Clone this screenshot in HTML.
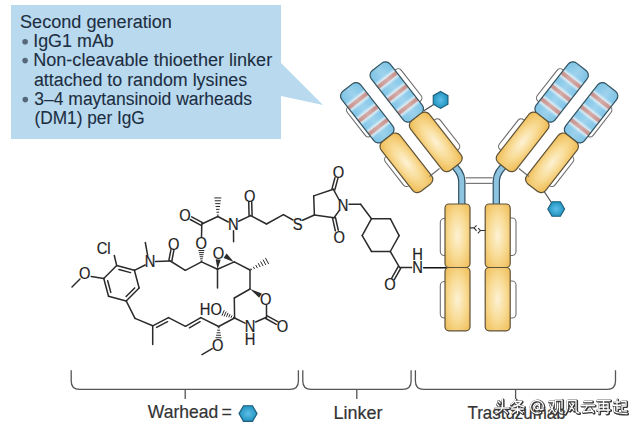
<!DOCTYPE html>
<html><head><meta charset="utf-8"><style>
html,body{margin:0;padding:0;background:#fff;}
svg{display:block;font-family:"Liberation Sans",sans-serif;}
</style></head><body>
<svg width="640" height="427" viewBox="0 0 640 427">

<defs>
<linearGradient id="blueg" x1="0" y1="0" x2="1" y2="0"><stop offset="0.000" stop-color="#7cc1e3"/><stop offset="0.170" stop-color="#84c7e9"/><stop offset="0.215" stop-color="#d3e8f3"/><stop offset="0.240" stop-color="#c8938e"/><stop offset="0.280" stop-color="#c8938e"/><stop offset="0.305" stop-color="#d3e8f3"/><stop offset="0.350" stop-color="#84c7e9"/><stop offset="0.430" stop-color="#84c7e9"/><stop offset="0.475" stop-color="#d3e8f3"/><stop offset="0.500" stop-color="#c8938e"/><stop offset="0.540" stop-color="#c8938e"/><stop offset="0.565" stop-color="#d3e8f3"/><stop offset="0.610" stop-color="#84c7e9"/><stop offset="0.690" stop-color="#84c7e9"/><stop offset="0.735" stop-color="#d3e8f3"/><stop offset="0.760" stop-color="#c8938e"/><stop offset="0.800" stop-color="#c8938e"/><stop offset="0.825" stop-color="#d3e8f3"/><stop offset="0.870" stop-color="#84c7e9"/><stop offset="1.000" stop-color="#7cc1e3"/></linearGradient>
<radialGradient id="yelg" cx="0.5" cy="0.5" r="0.6">
<stop offset="0" stop-color="#fdf2d4"/><stop offset="0.55" stop-color="#f8da92"/><stop offset="1" stop-color="#f0bf5c"/>
</radialGradient>
<radialGradient id="yelg2" cx="0.5" cy="0.5" r="0.65">
<stop offset="0" stop-color="#fdf2d4"/><stop offset="0.55" stop-color="#f8da92"/><stop offset="1" stop-color="#f0bf5c"/>
</radialGradient>
<linearGradient id="hil" x1="0" y1="0" x2="0" y2="1"><stop offset="0" stop-color="#fff" stop-opacity="0"/><stop offset="0.5" stop-color="#fff" stop-opacity="0.22"/><stop offset="1" stop-color="#fff" stop-opacity="0"/></linearGradient>
<radialGradient id="hexg" cx="0.5" cy="0.5" r="0.55">
<stop offset="0" stop-color="#5ebee8"/><stop offset="1" stop-color="#1b90bd"/>
</radialGradient>
</defs>
<rect width="640" height="427" fill="#fff"/>

<polygon points="11,5 281,5 281,63 323,105 281,96 281,139 11,139" fill="#b9daee"/>
<g font-size="18" fill="#1d2e42" stroke="#1d2e42" stroke-width="0.1">
<text x="20" y="27.5" textLength="151.9" lengthAdjust="spacingAndGlyphs">Second generation</text>
<text x="33.2" y="46.9" textLength="80.6" lengthAdjust="spacingAndGlyphs">IgG1 mAb</text>
<text x="33.2" y="66.2" textLength="239" lengthAdjust="spacingAndGlyphs">Non-cleavable thioether linker</text>
<text x="33.9" y="85.5" textLength="213.3" lengthAdjust="spacingAndGlyphs">attached to random lysines</text>
<text x="34.3" y="104.8" textLength="217.7" lengthAdjust="spacingAndGlyphs">3–4 maytansinoid warheads</text>
<text x="34.5" y="124.2" textLength="110.3" lengthAdjust="spacingAndGlyphs">(DM1) per IgG</text>
</g>
<circle cx="25.1" cy="41.7" r="2.8" fill="#56677a"/>
<circle cx="25.1" cy="60.6" r="2.8" fill="#56677a"/>
<circle cx="25.3" cy="99.6" r="2.8" fill="#56677a"/>

<g stroke-linecap="butt"><path d="M 449.30 161.5 Q 461.80 171.5 461.80 181 L 461.80 206" fill="none" stroke="#2f5062" stroke-width="7.4"/><path d="M 449.30 161.5 Q 461.80 171.5 461.80 181 L 461.80 206" fill="none" stroke="#8ec3df" stroke-width="5"/><path d="M 508.80 161.5 Q 496.30 171.5 496.30 181 L 496.30 206" fill="none" stroke="#2f5062" stroke-width="7.4"/><path d="M 508.80 161.5 Q 496.30 171.5 496.30 181 L 496.30 206" fill="none" stroke="#8ec3df" stroke-width="5"/><line x1="465.50" y1="177.80" x2="492.80" y2="177.80" stroke="#777" stroke-width="1.2" /><line x1="465.50" y1="183.40" x2="492.80" y2="183.40" stroke="#777" stroke-width="1.2" /><g transform="rotate(52)"><rect x="298.5" y="-226" width="37" height="21.5" rx="4" fill="#fff" stroke="#6b6b6b" stroke-width="1.1"/><rect x="361" y="-226" width="37" height="22" rx="4" fill="#fff" stroke="#6b6b6b" stroke-width="1.1"/><rect x="298.5" y="-273" width="40" height="22" rx="4" fill="#fff" stroke="#6b6b6b" stroke-width="1.1"/><rect x="362" y="-273" width="38" height="22" rx="4" fill="#fff" stroke="#6b6b6b" stroke-width="1.1"/><rect x="283" y="-232" width="64" height="24" rx="6" fill="url(#blueg)" stroke="#33525e" stroke-width="1.2"/><rect x="284" y="-231" width="62" height="22" rx="5" fill="url(#hil)"/><rect x="347" y="-232" width="63" height="24" rx="6" fill="url(#yelg)" stroke="#5e5238" stroke-width="1.2"/><rect x="284.8" y="-268" width="64" height="24" rx="6" fill="url(#blueg)" stroke="#33525e" stroke-width="1.2"/><rect x="285.8" y="-267" width="62" height="22" rx="5" fill="url(#hil)"/><rect x="348.6" y="-268" width="63" height="24" rx="6" fill="url(#yelg)" stroke="#5e5238" stroke-width="1.2"/></g><g transform="translate(958.4,0) scale(-1,1) rotate(52)"><rect x="298.5" y="-226" width="37" height="21.5" rx="4" fill="#fff" stroke="#6b6b6b" stroke-width="1.1"/><rect x="361" y="-226" width="37" height="22" rx="4" fill="#fff" stroke="#6b6b6b" stroke-width="1.1"/><rect x="298.5" y="-273" width="40" height="22" rx="4" fill="#fff" stroke="#6b6b6b" stroke-width="1.1"/><rect x="362" y="-273" width="38" height="22" rx="4" fill="#fff" stroke="#6b6b6b" stroke-width="1.1"/><rect x="283" y="-232" width="64" height="24" rx="6" fill="url(#blueg)" stroke="#33525e" stroke-width="1.2"/><rect x="284" y="-231" width="62" height="22" rx="5" fill="url(#hil)"/><rect x="347" y="-232" width="63" height="24" rx="6" fill="url(#yelg)" stroke="#5e5238" stroke-width="1.2"/><rect x="284.8" y="-268" width="64" height="24" rx="6" fill="url(#blueg)" stroke="#33525e" stroke-width="1.2"/><rect x="285.8" y="-267" width="62" height="22" rx="5" fill="url(#hil)"/><rect x="348.6" y="-268" width="63" height="24" rx="6" fill="url(#yelg)" stroke="#5e5238" stroke-width="1.2"/></g><line x1="429.50" y1="176.50" x2="439.50" y2="168.50" stroke="#666" stroke-width="1.1" /><line x1="528.90" y1="176.50" x2="518.90" y2="168.50" stroke="#666" stroke-width="1.1" /><rect x="440.3" y="218.5" width="12" height="37" rx="4" fill="#fff" stroke="#707070" stroke-width="1.1"/><rect x="440.3" y="281.5" width="12" height="36.5" rx="4" fill="#fff" stroke="#707070" stroke-width="1.1"/><rect x="504" y="218" width="12" height="37.5" rx="4" fill="#fff" stroke="#707070" stroke-width="1.1"/><rect x="504" y="281" width="12" height="37" rx="4" fill="#fff" stroke="#707070" stroke-width="1.1"/><rect x="445" y="204" width="25" height="63.5" rx="4" fill="url(#yelg2)" stroke="#5e5238" stroke-width="1.2"/><rect x="445" y="267.5" width="25" height="63.3" rx="4" fill="url(#yelg2)" stroke="#5e5238" stroke-width="1.2"/><rect x="485.2" y="204" width="25" height="63.5" rx="4" fill="url(#yelg2)" stroke="#5e5238" stroke-width="1.2"/><rect x="485.2" y="267.5" width="25" height="63.3" rx="4" fill="url(#yelg2)" stroke="#5e5238" stroke-width="1.2"/><path d="M469.9 227.9 L474 227.9 M476.6 225.3 L474 227.9 L476.6 230.8 M478.1 228.2 L480.5 230.5 L477.8 233.4 M480.5 230.5 L485.4 230.5" fill="none" stroke="#333" stroke-width="1.1"/><line x1="433.30" y1="104.70" x2="423.90" y2="110.80" stroke="#444" stroke-width="1.1" /><polygon points="440.60,91.40 447.96,95.65 447.96,104.15 440.60,108.40 433.24,104.15 433.24,95.65" fill="url(#hexg)" stroke="#1d5d78" stroke-width="1.1"/><line x1="551.20" y1="202.20" x2="544.00" y2="191.20" stroke="#444" stroke-width="1.1" /><polygon points="564.60,209.00 560.40,216.27 552.00,216.27 547.80,209.00 552.00,201.73 560.40,201.73" fill="url(#hexg)" stroke="#1d5d78" stroke-width="1.1"/></g>
<g stroke-linecap="round"><line x1="116.71" y1="265.57" x2="134.39" y2="270.31" stroke="#2b2b2b" stroke-width="1.5" /><line x1="134.39" y1="270.31" x2="139.13" y2="287.99" stroke="#2b2b2b" stroke-width="1.5" /><line x1="139.13" y1="287.99" x2="126.19" y2="300.93" stroke="#2b2b2b" stroke-width="1.5" /><line x1="126.19" y1="300.93" x2="108.51" y2="296.19" stroke="#2b2b2b" stroke-width="1.5" /><line x1="108.51" y1="296.19" x2="103.77" y2="278.51" stroke="#2b2b2b" stroke-width="1.5" /><line x1="103.77" y1="278.51" x2="116.71" y2="265.57" stroke="#2b2b2b" stroke-width="1.5" /><line x1="118.89" y1="269.47" x2="130.56" y2="272.60" stroke="#2b2b2b" stroke-width="1.5" /><line x1="134.66" y1="287.92" x2="126.12" y2="296.46" stroke="#2b2b2b" stroke-width="1.5" /><line x1="110.80" y1="292.36" x2="107.67" y2="280.69" stroke="#2b2b2b" stroke-width="1.5" /><line x1="116.71" y1="265.57" x2="114.30" y2="255.50" stroke="#2b2b2b" stroke-width="1.5" /><text transform="translate(103.60,254.13) scale(0.92,1)" font-size="16" text-anchor="middle" fill="#222" stroke="#222" stroke-width="0.2">Cl</text><line x1="103.77" y1="278.51" x2="91.20" y2="276.60" stroke="#2b2b2b" stroke-width="1.5" /><text transform="translate(84.70,279.33) scale(0.92,1)" font-size="16" text-anchor="middle" fill="#222" stroke="#222" stroke-width="0.2">O</text><line x1="80.00" y1="279.00" x2="72.00" y2="287.00" stroke="#2b2b2b" stroke-width="1.5" /><line x1="134.39" y1="270.31" x2="145.20" y2="265.00" stroke="#2b2b2b" stroke-width="1.5" /><text transform="translate(150.00,267.03) scale(0.92,1)" font-size="16" text-anchor="middle" fill="#222" stroke="#222" stroke-width="0.2">N</text><line x1="147.60" y1="255.20" x2="145.30" y2="242.50" stroke="#2b2b2b" stroke-width="1.5" /><line x1="155.60" y1="261.60" x2="170.30" y2="261.00" stroke="#2b2b2b" stroke-width="1.5" /><line x1="171.77" y1="261.28" x2="173.87" y2="250.28" stroke="#2b2b2b" stroke-width="1.5" /><line x1="168.83" y1="260.72" x2="170.93" y2="249.72" stroke="#2b2b2b" stroke-width="1.5" /><text transform="translate(173.80,249.73) scale(0.92,1)" font-size="16" text-anchor="middle" fill="#222" stroke="#222" stroke-width="0.2">O</text><line x1="170.30" y1="261.00" x2="185.30" y2="270.30" stroke="#2b2b2b" stroke-width="1.5" /><line x1="185.30" y1="270.30" x2="201.50" y2="261.90" stroke="#2b2b2b" stroke-width="1.5" /><line x1="200.98" y1="260.87" x2="202.00" y2="260.86" stroke="#2b2b2b" stroke-width="1.0" /><line x1="200.55" y1="258.81" x2="202.40" y2="258.79" stroke="#2b2b2b" stroke-width="1.0" /><line x1="200.12" y1="256.74" x2="202.80" y2="256.72" stroke="#2b2b2b" stroke-width="1.0" /><line x1="199.68" y1="254.68" x2="203.20" y2="254.65" stroke="#2b2b2b" stroke-width="1.0" /><line x1="199.25" y1="252.62" x2="203.60" y2="252.58" stroke="#2b2b2b" stroke-width="1.0" /><line x1="198.82" y1="250.55" x2="204.00" y2="250.51" stroke="#2b2b2b" stroke-width="1.0" /><text transform="translate(201.30,248.63) scale(0.92,1)" font-size="16" text-anchor="middle" fill="#222" stroke="#222" stroke-width="0.2">O</text><line x1="201.50" y1="261.90" x2="217.50" y2="269.30" stroke="#2b2b2b" stroke-width="1.5" /><line x1="217.50" y1="269.30" x2="217.50" y2="288.10" stroke="#2b2b2b" stroke-width="1.5" /><polygon points="217.50,269.30 220.69,259.68 215.71,259.32" fill="#2b2b2b"/><text transform="translate(218.40,259.13) scale(0.92,1)" font-size="16" text-anchor="middle" fill="#222" stroke="#222" stroke-width="0.2">O</text><line x1="217.50" y1="269.30" x2="234.30" y2="261.90" stroke="#2b2b2b" stroke-width="1.5" /><polygon points="226.6,253.4 223.6,257.9 233.8,262.0" fill="#2b2b2b"/><line x1="234.30" y1="261.90" x2="250.00" y2="270.00" stroke="#2b2b2b" stroke-width="1.5" /><line x1="251.07" y1="268.85" x2="251.55" y2="269.76" stroke="#2b2b2b" stroke-width="1.0" /><line x1="253.50" y1="267.09" x2="254.38" y2="268.76" stroke="#2b2b2b" stroke-width="1.0" /><line x1="255.93" y1="265.32" x2="257.21" y2="267.75" stroke="#2b2b2b" stroke-width="1.0" /><line x1="258.36" y1="263.56" x2="260.04" y2="266.74" stroke="#2b2b2b" stroke-width="1.0" /><line x1="260.79" y1="261.79" x2="262.87" y2="265.74" stroke="#2b2b2b" stroke-width="1.0" /><line x1="263.22" y1="260.03" x2="265.70" y2="264.73" stroke="#2b2b2b" stroke-width="1.0" /><line x1="265.65" y1="258.26" x2="268.52" y2="263.72" stroke="#2b2b2b" stroke-width="1.0" /><line x1="250.00" y1="270.00" x2="250.00" y2="289.00" stroke="#2b2b2b" stroke-width="1.5" /><polygon points="250.00,289.00 259.17,297.72 261.83,293.48" fill="#2b2b2b"/><text transform="translate(265.60,305.03) scale(0.92,1)" font-size="16" text-anchor="middle" fill="#222" stroke="#222" stroke-width="0.2">O</text><line x1="250.00" y1="289.00" x2="234.30" y2="298.00" stroke="#2b2b2b" stroke-width="1.5" /><line x1="234.30" y1="298.00" x2="234.60" y2="318.00" stroke="#2b2b2b" stroke-width="1.5" /><line x1="233.35" y1="318.02" x2="233.75" y2="317.08" stroke="#2b2b2b" stroke-width="1.0" /><line x1="231.09" y1="317.50" x2="231.81" y2="315.80" stroke="#2b2b2b" stroke-width="1.0" /><line x1="228.82" y1="316.98" x2="229.88" y2="314.52" stroke="#2b2b2b" stroke-width="1.0" /><line x1="226.56" y1="316.47" x2="227.94" y2="313.23" stroke="#2b2b2b" stroke-width="1.0" /><line x1="224.29" y1="315.95" x2="226.01" y2="311.95" stroke="#2b2b2b" stroke-width="1.0" /><line x1="222.03" y1="315.43" x2="224.07" y2="310.67" stroke="#2b2b2b" stroke-width="1.0" /><text transform="translate(210.80,314.93) scale(0.92,1)" font-size="16" text-anchor="middle" fill="#222" stroke="#222" stroke-width="0.2">HO</text><line x1="234.60" y1="318.00" x2="245.00" y2="323.20" stroke="#2b2b2b" stroke-width="1.5" /><text transform="translate(250.10,331.73) scale(0.92,1)" font-size="16" text-anchor="middle" fill="#222" stroke="#222" stroke-width="0.2">N</text><text transform="translate(250.10,344.93) scale(0.92,1)" font-size="16" text-anchor="middle" fill="#222" stroke="#222" stroke-width="0.2">H</text><line x1="255.60" y1="322.00" x2="266.50" y2="317.20" stroke="#2b2b2b" stroke-width="1.5" /><line x1="266.50" y1="317.20" x2="266.50" y2="305.60" stroke="#2b2b2b" stroke-width="1.5" /><line x1="265.77" y1="318.51" x2="276.27" y2="324.31" stroke="#2b2b2b" stroke-width="1.5" /><line x1="267.23" y1="315.89" x2="277.73" y2="321.69" stroke="#2b2b2b" stroke-width="1.5" /><text transform="translate(282.40,331.83) scale(0.92,1)" font-size="16" text-anchor="middle" fill="#222" stroke="#222" stroke-width="0.2">O</text><line x1="234.60" y1="318.00" x2="218.70" y2="326.50" stroke="#2b2b2b" stroke-width="1.5" /><line x1="219.23" y1="327.76" x2="218.13" y2="327.74" stroke="#2b2b2b" stroke-width="1.0" /><line x1="219.69" y1="330.27" x2="217.59" y2="330.23" stroke="#2b2b2b" stroke-width="1.0" /><line x1="220.15" y1="332.77" x2="217.05" y2="332.73" stroke="#2b2b2b" stroke-width="1.0" /><line x1="220.61" y1="335.28" x2="216.51" y2="335.22" stroke="#2b2b2b" stroke-width="1.0" /><line x1="221.07" y1="337.79" x2="215.97" y2="337.71" stroke="#2b2b2b" stroke-width="1.0" /><text transform="translate(217.80,350.93) scale(0.92,1)" font-size="16" text-anchor="middle" fill="#222" stroke="#222" stroke-width="0.2">O</text><line x1="212.20" y1="348.60" x2="202.00" y2="354.60" stroke="#2b2b2b" stroke-width="1.5" /><line x1="218.70" y1="326.50" x2="200.80" y2="317.60" stroke="#2b2b2b" stroke-width="1.5" /><line x1="200.80" y1="317.60" x2="185.50" y2="326.30" stroke="#2b2b2b" stroke-width="1.5" /><line x1="200.09" y1="321.69" x2="189.38" y2="327.78" stroke="#2b2b2b" stroke-width="1.5" /><line x1="185.50" y1="326.30" x2="168.50" y2="317.60" stroke="#2b2b2b" stroke-width="1.5" /><line x1="168.50" y1="317.60" x2="152.70" y2="325.80" stroke="#2b2b2b" stroke-width="1.5" /><line x1="167.60" y1="321.67" x2="156.54" y2="327.41" stroke="#2b2b2b" stroke-width="1.5" /><line x1="152.70" y1="325.80" x2="152.70" y2="344.60" stroke="#2b2b2b" stroke-width="1.5" /><line x1="152.70" y1="325.80" x2="135.00" y2="318.40" stroke="#2b2b2b" stroke-width="1.5" /><line x1="135.00" y1="318.40" x2="126.19" y2="300.93" stroke="#2b2b2b" stroke-width="1.5" /><line x1="201.50" y1="237.00" x2="201.80" y2="224.00" stroke="#2b2b2b" stroke-width="1.5" /><line x1="202.51" y1="222.68" x2="191.71" y2="216.88" stroke="#2b2b2b" stroke-width="1.5" /><line x1="201.09" y1="225.32" x2="190.29" y2="219.52" stroke="#2b2b2b" stroke-width="1.5" /><text transform="translate(185.00,221.33) scale(0.92,1)" font-size="16" text-anchor="middle" fill="#222" stroke="#222" stroke-width="0.2">O</text><line x1="201.80" y1="224.00" x2="217.80" y2="216.50" stroke="#2b2b2b" stroke-width="1.5" /><line x1="217.29" y1="215.07" x2="218.31" y2="215.07" stroke="#2b2b2b" stroke-width="1.0" /><line x1="216.86" y1="212.21" x2="218.74" y2="212.21" stroke="#2b2b2b" stroke-width="1.0" /><line x1="216.43" y1="209.36" x2="219.17" y2="209.36" stroke="#2b2b2b" stroke-width="1.0" /><line x1="216.00" y1="206.50" x2="219.60" y2="206.50" stroke="#2b2b2b" stroke-width="1.0" /><line x1="215.57" y1="203.64" x2="220.03" y2="203.64" stroke="#2b2b2b" stroke-width="1.0" /><line x1="215.14" y1="200.79" x2="220.46" y2="200.79" stroke="#2b2b2b" stroke-width="1.0" /><line x1="214.71" y1="197.93" x2="220.89" y2="197.93" stroke="#2b2b2b" stroke-width="1.0" /><line x1="217.80" y1="216.50" x2="228.30" y2="222.00" stroke="#2b2b2b" stroke-width="1.5" /><text transform="translate(233.20,230.23) scale(0.92,1)" font-size="16" text-anchor="middle" fill="#222" stroke="#222" stroke-width="0.2">N</text><line x1="233.50" y1="230.80" x2="233.60" y2="241.80" stroke="#2b2b2b" stroke-width="1.5" /><line x1="238.60" y1="221.30" x2="250.60" y2="215.60" stroke="#2b2b2b" stroke-width="1.5" /><line x1="252.10" y1="215.56" x2="251.70" y2="201.76" stroke="#2b2b2b" stroke-width="1.5" /><line x1="249.10" y1="215.64" x2="248.70" y2="201.84" stroke="#2b2b2b" stroke-width="1.5" /><text transform="translate(249.70,201.63) scale(0.92,1)" font-size="16" text-anchor="middle" fill="#222" stroke="#222" stroke-width="0.2">O</text><line x1="250.60" y1="215.60" x2="266.50" y2="224.00" stroke="#2b2b2b" stroke-width="1.5" /><line x1="266.50" y1="224.00" x2="283.40" y2="214.70" stroke="#2b2b2b" stroke-width="1.5" /><line x1="283.40" y1="214.70" x2="293.00" y2="220.00" stroke="#2b2b2b" stroke-width="1.5" /><text transform="translate(297.70,230.23) scale(0.92,1)" font-size="16" text-anchor="middle" fill="#222" stroke="#222" stroke-width="0.2">S</text><line x1="302.60" y1="220.30" x2="314.40" y2="215.00" stroke="#2b2b2b" stroke-width="1.5" /><line x1="314.40" y1="215.00" x2="313.70" y2="195.90" stroke="#2b2b2b" stroke-width="1.5" /><line x1="313.70" y1="195.90" x2="333.40" y2="189.30" stroke="#2b2b2b" stroke-width="1.5" /><line x1="333.40" y1="189.30" x2="339.20" y2="200.00" stroke="#2b2b2b" stroke-width="1.5" /><line x1="339.20" y1="210.60" x2="334.00" y2="217.80" stroke="#2b2b2b" stroke-width="1.5" /><line x1="334.00" y1="217.80" x2="314.40" y2="215.00" stroke="#2b2b2b" stroke-width="1.5" /><line x1="334.85" y1="189.69" x2="337.85" y2="178.59" stroke="#2b2b2b" stroke-width="1.5" /><line x1="331.95" y1="188.91" x2="334.95" y2="177.81" stroke="#2b2b2b" stroke-width="1.5" /><text transform="translate(338.50,177.73) scale(0.92,1)" font-size="16" text-anchor="middle" fill="#222" stroke="#222" stroke-width="0.2">O</text><line x1="332.54" y1="218.12" x2="335.34" y2="230.82" stroke="#2b2b2b" stroke-width="1.5" /><line x1="335.46" y1="217.48" x2="338.26" y2="230.18" stroke="#2b2b2b" stroke-width="1.5" /><text transform="translate(339.20,242.73) scale(0.92,1)" font-size="16" text-anchor="middle" fill="#222" stroke="#222" stroke-width="0.2">O</text><text transform="translate(343.00,210.93) scale(0.92,1)" font-size="16" text-anchor="middle" fill="#222" stroke="#222" stroke-width="0.2">N</text><line x1="349.00" y1="204.30" x2="360.60" y2="204.30" stroke="#2b2b2b" stroke-width="1.5" /><line x1="360.60" y1="204.30" x2="371.50" y2="218.70" stroke="#2b2b2b" stroke-width="1.5" /><line x1="371.50" y1="218.70" x2="390.30" y2="218.70" stroke="#2b2b2b" stroke-width="1.5" /><line x1="390.30" y1="218.70" x2="399.10" y2="235.60" stroke="#2b2b2b" stroke-width="1.5" /><line x1="399.10" y1="235.60" x2="390.30" y2="251.50" stroke="#2b2b2b" stroke-width="1.5" /><line x1="390.30" y1="251.50" x2="371.50" y2="251.50" stroke="#2b2b2b" stroke-width="1.5" /><line x1="371.50" y1="251.50" x2="362.20" y2="235.60" stroke="#2b2b2b" stroke-width="1.5" /><line x1="362.20" y1="235.60" x2="371.50" y2="218.70" stroke="#2b2b2b" stroke-width="1.5" /><line x1="390.30" y1="251.50" x2="399.50" y2="267.40" stroke="#2b2b2b" stroke-width="1.5" /><line x1="399.50" y1="267.40" x2="411.60" y2="267.40" stroke="#2b2b2b" stroke-width="1.5" /><line x1="398.20" y1="266.66" x2="391.70" y2="278.06" stroke="#2b2b2b" stroke-width="1.5" /><line x1="400.80" y1="268.14" x2="394.30" y2="279.54" stroke="#2b2b2b" stroke-width="1.5" /><text transform="translate(390.00,290.03) scale(0.92,1)" font-size="16" text-anchor="middle" fill="#222" stroke="#222" stroke-width="0.2">O</text><text transform="translate(417.50,273.43) scale(0.92,1)" font-size="16" text-anchor="middle" fill="#222" stroke="#222" stroke-width="0.2">N</text><text transform="translate(417.50,259.63) scale(0.92,1)" font-size="16" text-anchor="middle" fill="#222" stroke="#222" stroke-width="0.2">H</text><line x1="423.60" y1="267.70" x2="446.00" y2="267.70" stroke="#111" stroke-width="1.5" /></g>
<path d="M71.2 370.3 L71.2 380.9 Q71.2 389.4 79.7 389.4 L289.9 389.4 Q298.4 389.4 298.4 380.9 L298.4 370.3 M185.2 389.4 L185.2 399" fill="none" stroke="#555" stroke-width="1.3"/><path d="M302.8 370.3 L302.8 380.9 Q302.8 389.4 311.3 389.4 L402.6 389.4 Q411.1 389.4 411.1 380.9 L411.1 370.3 M356.8 389.4 L356.8 399" fill="none" stroke="#555" stroke-width="1.3"/><path d="M415.4 370.3 L415.4 380.9 Q415.4 389.4 423.9 389.4 L607.0 389.4 Q615.5 389.4 615.5 380.9 L615.5 370.3 M515.6 389.4 L515.6 399" fill="none" stroke="#555" stroke-width="1.3"/>

<text x="147.8" y="418.3" font-size="17.8" fill="#333" stroke="#333" stroke-width="0.2" textLength="70.4" lengthAdjust="spacingAndGlyphs">Warhead</text>
<text x="221.5" y="418.3" font-size="17.8" fill="#333" stroke="#333" stroke-width="0.2">=</text>
<text x="333.55" y="418.5" font-size="17.8" fill="#333" stroke="#333" stroke-width="0.2" textLength="49" lengthAdjust="spacingAndGlyphs">Linker</text>
<text x="467.55" y="418.5" font-size="17.8" fill="#333" stroke="#333" stroke-width="0.2" textLength="98" lengthAdjust="spacingAndGlyphs">Trastuzumab</text>

<polygon points="257.00,413.60 252.50,421.39 243.50,421.39 239.00,413.60 243.50,405.81 252.50,405.81" fill="url(#hexg)" stroke="#1d5d78" stroke-width="1.1"/>
<g fill="none" stroke-linecap="round" stroke-linejoin="round"><g stroke="#383838" stroke-width="3.0" transform="translate(0.6,0.6)"><path transform="translate(495,399.5)" d="M3,1.5 L5,3.5 M2,4.5 L4,6.5 M7.5,0 L7.5,7.5 Q7,11.5 1,14 M0,8.5 L14,8.5 M9,10.5 L12.5,13.5"/> <path transform="translate(510.5,399.5)" d="M5,0 Q3.5,3 0.5,5 M4,2 L11,2 Q8,6 1.5,8 M5,3.5 Q9,6.5 13.5,7.5 M1,9.5 L13,9.5 M7,7.5 L7,14 M6,10.5 L2,13.5 M8,10.5 L12,13.5"/> <path transform="translate(530,399.5)" d="M13.5,7.5 A6.5,6.5 0 1 0 10.5,13 M9.5,7.5 A2.5,2.5 0 1 1 9.49,7.4 M9.5,5 L9.5,9.5 Q10.5,11 13.5,9.5"/> <path transform="translate(548.5,399.5)" d="M0.5,2 L5.5,2 Q4.5,9 0.5,13.5 M1.5,5 Q4,10 6,13.5 M7,0.5 L7,8.5 M7,0.5 L13.5,0.5 L13.5,8.5 M9,3.5 L9,8.5 Q8.5,12 6.5,14 M11,3.5 L11,12 Q11.5,13.5 14,13.5"/> <path transform="translate(565,399.5)" d="M2.5,1 L2.5,8 Q2,12 0,14 M2.5,1 L11,1 L11,11 Q11.5,13.5 14,13.5 M4.5,4 L9,11 M9,4 L4.5,11"/> <path transform="translate(581,399.5)" d="M3,2 L11,2 M0.5,6 L13.5,6 M6.5,6 L2,12.5 L12,11.5 M9.5,9 L12.5,13"/> <path transform="translate(596.5,399.5)" d="M0.5,1 L13.5,1 M7,1 L7,10.5 M2.5,4 L2.5,14 M2.5,4 L11.5,4 L11.5,13 Q11.5,14 10,14 M2.5,7.5 L11.5,7.5 M0.5,10.5 L13.5,10.5"/> <path transform="translate(613,399.5)" d="M1,2.5 L7,2.5 M4,0 L4,6 M0.5,6 L7.5,6 M4,6 L4,11 M4,8.5 L7,8.5 M1.5,8 L1.5,12 Q5,14 14,14 M8.5,2 L13,2 L13,6.5 L9,6.5 L9,10.5 Q9,11.5 11,11.5 L13.5,11.5"/></g><g stroke="#fff" stroke-width="1.3"><path transform="translate(495,399.5)" d="M3,1.5 L5,3.5 M2,4.5 L4,6.5 M7.5,0 L7.5,7.5 Q7,11.5 1,14 M0,8.5 L14,8.5 M9,10.5 L12.5,13.5"/> <path transform="translate(510.5,399.5)" d="M5,0 Q3.5,3 0.5,5 M4,2 L11,2 Q8,6 1.5,8 M5,3.5 Q9,6.5 13.5,7.5 M1,9.5 L13,9.5 M7,7.5 L7,14 M6,10.5 L2,13.5 M8,10.5 L12,13.5"/> <path transform="translate(530,399.5)" d="M13.5,7.5 A6.5,6.5 0 1 0 10.5,13 M9.5,7.5 A2.5,2.5 0 1 1 9.49,7.4 M9.5,5 L9.5,9.5 Q10.5,11 13.5,9.5"/> <path transform="translate(548.5,399.5)" d="M0.5,2 L5.5,2 Q4.5,9 0.5,13.5 M1.5,5 Q4,10 6,13.5 M7,0.5 L7,8.5 M7,0.5 L13.5,0.5 L13.5,8.5 M9,3.5 L9,8.5 Q8.5,12 6.5,14 M11,3.5 L11,12 Q11.5,13.5 14,13.5"/> <path transform="translate(565,399.5)" d="M2.5,1 L2.5,8 Q2,12 0,14 M2.5,1 L11,1 L11,11 Q11.5,13.5 14,13.5 M4.5,4 L9,11 M9,4 L4.5,11"/> <path transform="translate(581,399.5)" d="M3,2 L11,2 M0.5,6 L13.5,6 M6.5,6 L2,12.5 L12,11.5 M9.5,9 L12.5,13"/> <path transform="translate(596.5,399.5)" d="M0.5,1 L13.5,1 M7,1 L7,10.5 M2.5,4 L2.5,14 M2.5,4 L11.5,4 L11.5,13 Q11.5,14 10,14 M2.5,7.5 L11.5,7.5 M0.5,10.5 L13.5,10.5"/> <path transform="translate(613,399.5)" d="M1,2.5 L7,2.5 M4,0 L4,6 M0.5,6 L7.5,6 M4,6 L4,11 M4,8.5 L7,8.5 M1.5,8 L1.5,12 Q5,14 14,14 M8.5,2 L13,2 L13,6.5 L9,6.5 L9,10.5 Q9,11.5 11,11.5 L13.5,11.5"/></g></g>
</svg>
</body></html>
